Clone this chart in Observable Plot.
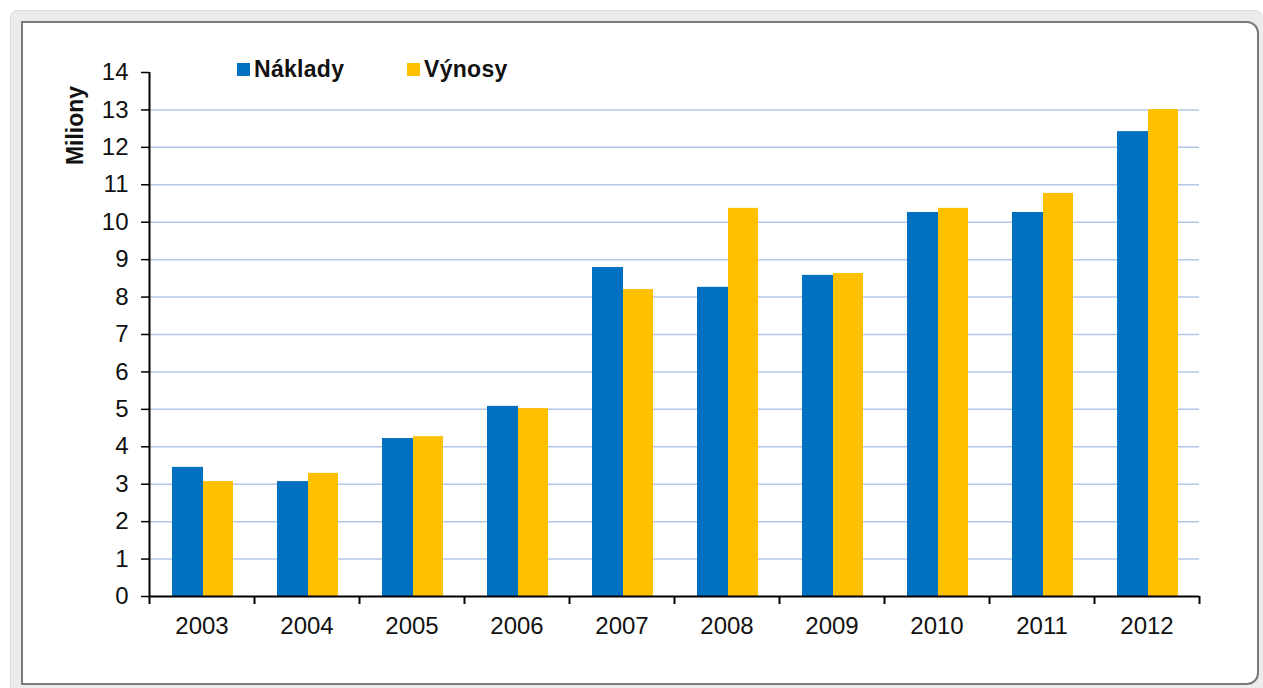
<!DOCTYPE html>
<html>
<head>
<meta charset="utf-8">
<script src="https://cdn.jsdelivr.net/npm/d3@7"></script>
<script src="https://cdn.jsdelivr.net/npm/@observablehq/plot@0.6"></script>
<style>
  html, body { margin: 0; padding: 0; background: #ffffff; }
  body { width: 1263px; height: 688px; position: relative; overflow: hidden; font-family: "Liberation Sans", Arial, sans-serif; }
  #outer { position: absolute; left: 10px; top: 10px; width: 1253px; height: 678px; background: #ececec; border-radius: 8px 8px 0 0; border-top: 1px solid #dcdcdc; border-left: 1px solid #dcdcdc; box-sizing: border-box; }
  #inner { position: absolute; left: 21px; top: 21px; width: 1238px; height: 664px; background: #ffffff; border: 2px solid #7a7a7a; border-radius: 0 12px 12px 0; box-sizing: border-box; }
  #chart { position: absolute; left: 0; top: 0; }
  .legend { position: absolute; top: 56px; font: bold 23px "Liberation Sans", Arial, sans-serif; color: #111; display: flex; align-items: center; letter-spacing: 0.3px; }
  .sw { display: inline-block; width: 13px; height: 13px; margin-right: 4px; }
</style>
</head>
<body>
<div id="outer"></div>
<div id="inner"></div>
<div id="chart"></div>
<div class="legend" style="left:237px"><span class="sw" style="background:#0070c0"></span>Náklady</div>
<div class="legend" style="left:407px"><span class="sw" style="background:#ffc000"></span>Výnosy</div>
<script>
const years = ["2003","2004","2005","2006","2007","2008","2009","2010","2011","2012"];
const naklady = [3.45, 3.07, 4.22, 5.08, 8.79, 8.26, 8.58, 10.26, 10.26, 12.42];
const vynosy  = [3.07, 3.29, 4.27, 5.02, 8.20, 10.37, 8.63, 10.37, 10.77, 13.01];
const yTicks = [0,1,2,3,4,5,6,7,8,9,10,11,12,13,14];
const gridTicks = [1,2,3,4,5,6,7,8,9,10,11,12,13];

const dN = years.map((y, i) => ({year: y, value: naklady[i]}));
const dV = years.map((y, i) => ({year: y, value: vynosy[i]}));

const plot = Plot.plot({
  width: 1263,
  height: 688,
  marginLeft: 149,
  marginRight: 64,
  marginTop: 72,
  marginBottom: 92,
  style: {background: "transparent", fontFamily: "'Liberation Sans', Arial, sans-serif", fontSize: "24px", color: "#111", overflow: "visible"},
  x: {domain: years, padding: 0, label: null},
  y: {domain: [0, 14], label: null},
  marks: [
    Plot.ruleY(gridTicks, {stroke: "#b4c6e7", strokeWidth: 1.5}),
    Plot.barY(dN, {x: "year", y: "value", fill: "#0070c0", insetLeft: 23, insetRight: 51}),
    Plot.barY(dV, {x: "year", y: "value", fill: "#ffc000", insetLeft: 54, insetRight: 21}),
    Plot.axisY({ticks: yTicks, tickSize: 8, tickPadding: 13, stroke: "#000", strokeWidth: 1.5, fontSize: 24, label: null}),
    Plot.ruleX([0], {x: () => years[0], dx: -52.5, stroke: "#000", strokeWidth: 2}),
    Plot.axisX({tickSize: 0, tickPadding: 20, fontSize: 24, label: null}),
    Plot.ruleY([0], {stroke: "#000", strokeWidth: 2}),
    Plot.ruleX(years, {x: d => d, y1: 0, y2: 0, dx: -52.5, insetBottom: -8, stroke: "#000", strokeWidth: 2}),
    Plot.ruleX([years[years.length - 1]], {x: d => d, y1: 0, y2: 0, dx: 52.5, insetBottom: -8, stroke: "#000", strokeWidth: 2}),
    Plot.text(["Miliony"], {frameAnchor: "top-left", dx: -74, dy: 53, rotate: -90, textAnchor: "middle", lineAnchor: "middle", fontWeight: "bold", fontSize: 23, fill: "#111"})
  ]
});
document.getElementById("chart").appendChild(plot);
</script>
</body>
</html>
